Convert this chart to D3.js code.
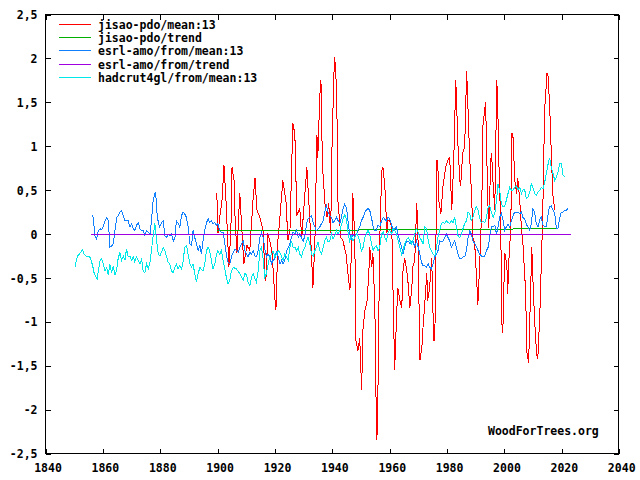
<!DOCTYPE html>
<html><head><meta charset="utf-8">
<script src="https://cdn.jsdelivr.net/npm/d3@7"></script>
<style>
html,body{margin:0;padding:0;background:#fff;}
text{font-family:"DejaVu Sans Mono",monospace;font-weight:bold;font-size:11.5px;fill:#000;}
</style></head>
<body><svg id="c" width="640" height="480"></svg>
<script>
// ---- data ----
const seriesNames = ["jisao-pdo/mean:13","jisao-pdo/trend","esrl-amo/from/mean:13","esrl-amo/from/trend","hadcrut4gl/from/mean:13"];
const seriesColors = ["#ff0000","#00b000","#1080ff","#a000e0","#00e8e8"];
const xTicks = [1840,1860,1880,1900,1920,1940,1960,1980,2000,2020,2040];
const yTicks = [-2.5,-2,-1.5,-1,-0.5,0,0.5,1,1.5,2,2.5];
const yTickLabels = ["-2,5","-2","-1,5","-1","-0,5","0","0,5","1","1,5","2","2,5"];

const pdo = [[1899.9,0.47],[1900.3,0.01],[1901.0,0.21],[1901.7,0.38],[1902.4,0.78],[1903.1,0.38],[1904.1,-0.38],[1904.8,0.04],[1905.2,0.76],[1905.9,0.61],[1906.2,0.23],[1906.9,-0.22],[1907.9,0.47],[1908.6,0.07],[1909.3,-0.34],[1910.4,-0.13],[1911.4,-0.19],[1912.5,0.38],[1913.2,0.64],[1913.9,0.27],[1914.9,0.19],[1916.0,0.04],[1916.7,-0.47],[1917.0,-0.53],[1917.7,0.01],[1919.1,-0.19],[1920.2,-0.76],[1920.5,-0.87],[1921.2,-0.07],[1921.9,0.19],[1922.9,0.61],[1924.0,0.38],[1924.7,-0.07],[1925.4,0.04],[1926.4,1.26],[1927.1,1.14],[1927.8,0.21],[1928.5,0.27],[1928.8,0.30],[1929.5,-0.04],[1930.6,0.46],[1931.3,0.76],[1931.6,0.58],[1932.3,0.19],[1933.4,-0.61],[1934.1,-0.07],[1934.8,1.13],[1935.1,0.87],[1935.8,1.58],[1936.2,1.75],[1936.5,1.14],[1936.9,0.69],[1937.6,0.35],[1938.3,0.19],[1938.9,0.35],[1939.6,0.01],[1940.0,0.92],[1940.7,1.81],[1941.0,2.01],[1941.7,1.63],[1942.1,0.38],[1942.8,0.12],[1943.1,-0.04],[1943.8,-0.07],[1944.9,-0.22],[1945.6,-0.45],[1946.3,-0.64],[1947.0,-0.07],[1947.3,0.47],[1948.0,-0.07],[1948.4,-1.21],[1949.1,-1.33],[1949.7,-1.18],[1950.4,-1.78],[1950.8,-1.10],[1951.5,-0.87],[1952.2,-0.79],[1952.9,-0.45],[1953.2,-0.15],[1953.9,-0.38],[1954.3,-0.22],[1955.0,-0.84],[1955.3,-1.70],[1955.7,-2.35],[1956.0,-1.98],[1956.7,-0.07],[1957.4,0.72],[1957.8,0.76],[1958.5,0.53],[1959.2,0.01],[1959.5,0.15],[1960.2,0.15],[1960.9,0.07],[1961.2,-0.45],[1961.9,-1.55],[1962.6,-0.91],[1963.0,-0.61],[1963.7,-0.76],[1964.4,-0.84],[1964.7,-0.45],[1965.4,-0.27],[1966.1,-0.42],[1966.5,-0.53],[1967.2,-0.84],[1967.9,-0.61],[1968.2,-0.38],[1968.9,-0.30],[1969.6,0.35],[1970.0,0.01],[1970.7,-1.44],[1971.4,-1.29],[1971.7,-1.10],[1972.4,-0.79],[1973.1,-0.45],[1973.4,-0.76],[1974.1,-0.61],[1974.8,-0.27],[1975.5,-1.21],[1975.9,-1.21],[1976.6,0.84],[1976.9,0.84],[1977.3,0.38],[1978.0,0.23],[1978.7,0.53],[1979.7,0.76],[1980.4,0.84],[1981.1,0.87],[1981.8,0.27],[1982.5,0.84],[1983.2,1.75],[1983.5,1.49],[1983.9,1.06],[1984.6,0.61],[1984.9,0.55],[1985.6,0.92],[1986.3,0.99],[1987.0,1.86],[1988.1,0.84],[1988.8,0.38],[1989.1,-0.04],[1989.8,-0.11],[1990.5,-0.53],[1990.9,-0.81],[1991.6,-0.30],[1992.3,0.35],[1992.6,1.21],[1993.6,1.50],[1994.3,0.46],[1994.7,0.07],[1995.4,0.84],[1995.7,0.92],[1996.1,0.64],[1996.8,0.27],[1997.5,1.75],[1997.8,1.52],[1998.2,0.84],[1998.9,0.07],[1999.2,-0.99],[1999.6,-1.13],[1999.9,-0.68],[2000.3,-0.22],[2001.0,-0.34],[2001.3,-0.68],[2001.7,-0.30],[2002.4,0.07],[2002.7,1.14],[2003.1,1.14],[2003.8,0.61],[2004.4,0.46],[2004.8,0.64],[2005.5,0.38],[2006.2,0.01],[2006.5,-0.04],[2007.6,-0.68],[2007.9,-1.33],[2008.6,-1.47],[2009.0,-0.99],[2009.7,-0.15],[2010.0,-0.45],[2010.7,-0.99],[2011.4,-1.38],[2011.8,-1.42],[2012.5,-0.91],[2013.2,-0.15],[2013.5,0.19],[2014.2,1.44],[2014.6,1.60],[2014.9,1.83],[2015.3,1.83],[2015.9,1.49],[2016.6,0.84],[2017.0,0.46],[2017.7,0.27]];

const pdoTrend = [[1900.0,0.035],[2018.2,0.06]];

const amo = [[1856.5,0.22],[1856.8,0.19],[1857.4,-0.02],[1858.0,-0.06],[1858.6,0.04],[1859.2,0.06],[1859.7,0.05],[1860.3,0.08],[1860.9,0.15],[1861.5,0.19],[1862.1,0.15],[1862.6,-0.15],[1863.2,-0.14],[1863.8,-0.11],[1864.4,0.04],[1865.0,0.19],[1865.5,0.21],[1866.1,0.25],[1866.7,0.27],[1867.3,0.21],[1867.9,0.15],[1868.4,0.15],[1869.0,0.15],[1869.6,0.08],[1870.2,0.12],[1870.8,0.06],[1871.3,0.04],[1871.9,0.10],[1872.5,0.13],[1873.1,0.06],[1873.7,0.04],[1874.2,0.04],[1874.8,-0.02],[1875.4,0.04],[1876.0,0.02],[1876.6,0.00],[1877.1,0.15],[1877.7,0.38],[1878.3,0.46],[1878.6,0.48],[1878.9,0.27],[1879.5,0.13],[1880.0,0.08],[1880.6,0.13],[1881.2,0.15],[1881.8,-0.02],[1882.4,-0.04],[1882.9,0.00],[1883.5,-0.02],[1884.1,0.00],[1884.7,-0.08],[1885.3,-0.04],[1885.8,0.15],[1886.4,0.12],[1887.0,0.08],[1887.6,0.21],[1888.2,0.25],[1888.7,0.23],[1889.3,0.19],[1889.9,0.08],[1890.5,-0.11],[1891.1,-0.13],[1891.6,0.04],[1892.2,-0.04],[1892.8,-0.11],[1893.4,-0.19],[1894.0,-0.13],[1894.5,-0.23],[1895.1,-0.08],[1895.7,0.04],[1896.3,0.13],[1896.9,0.17],[1897.4,0.13],[1898.0,0.15],[1898.6,0.12],[1899.2,0.13],[1899.8,0.10],[1900.3,0.12],[1900.9,0.04],[1901.5,0.02],[1902.1,0.02],[1902.7,-0.11],[1903.2,-0.23],[1903.8,-0.32],[1904.4,-0.34],[1905.0,-0.26],[1905.6,-0.21],[1906.2,-0.17],[1906.8,-0.19],[1907.4,-0.21],[1907.9,-0.15],[1908.5,-0.11],[1909.1,-0.08],[1909.7,-0.19],[1910.3,-0.23],[1910.8,-0.26],[1911.4,-0.21],[1912.0,-0.23],[1912.6,-0.19],[1913.2,-0.25],[1913.7,-0.26],[1914.3,-0.19],[1914.9,-0.04],[1915.5,0.02],[1916.1,-0.04],[1916.6,-0.17],[1917.2,-0.26],[1917.8,-0.23],[1918.4,-0.26],[1919.0,-0.34],[1919.5,-0.30],[1920.1,-0.28],[1920.7,-0.19],[1921.3,-0.26],[1921.9,-0.34],[1922.5,-0.30],[1923.0,-0.34],[1923.6,-0.30],[1924.2,-0.19],[1924.8,-0.15],[1925.4,-0.11],[1925.9,-0.04],[1926.5,0.02],[1927.1,0.00],[1927.7,0.04],[1928.3,-0.04],[1928.8,0.00],[1929.4,-0.04],[1930.0,-0.08],[1930.6,-0.02],[1931.2,0.12],[1931.7,0.17],[1932.3,0.19],[1932.9,0.21],[1933.5,0.13],[1934.1,0.08],[1934.6,0.04],[1935.2,0.06],[1935.8,0.08],[1936.4,0.12],[1937.0,0.15],[1937.5,0.25],[1938.1,0.32],[1938.7,0.25],[1939.3,0.21],[1939.9,0.19],[1940.4,0.13],[1941.0,0.15],[1941.6,0.19],[1942.2,0.15],[1942.8,0.12],[1943.3,0.19],[1943.9,0.29],[1944.5,0.34],[1945.1,0.30],[1945.7,0.13],[1946.2,0.00],[1946.8,-0.06],[1947.4,0.00],[1948.0,-0.04],[1948.6,0.00],[1949.1,0.04],[1949.7,0.08],[1950.3,0.15],[1950.9,0.19],[1951.5,0.25],[1952.0,0.27],[1952.6,0.29],[1953.2,0.27],[1953.8,0.19],[1954.4,0.08],[1954.9,0.04],[1955.5,0.04],[1956.1,0.10],[1956.7,0.08],[1957.3,0.15],[1957.9,0.19],[1958.4,0.17],[1959.0,0.15],[1959.6,0.19],[1960.2,0.17],[1961.4,0.04],[1962.5,0.08],[1963.7,-0.08],[1964.3,-0.15],[1964.8,-0.23],[1965.4,-0.15],[1966.0,-0.08],[1966.6,-0.08],[1967.2,-0.11],[1967.8,-0.09],[1968.3,-0.08],[1968.9,-0.15],[1969.5,-0.08],[1970.1,-0.15],[1970.7,-0.23],[1971.2,-0.32],[1971.8,-0.36],[1972.4,-0.36],[1973.0,-0.38],[1973.6,-0.34],[1974.1,-0.38],[1974.7,-0.40],[1975.3,-0.34],[1975.9,-0.26],[1976.5,-0.23],[1977.0,-0.19],[1977.6,-0.08],[1978.2,-0.09],[1978.8,-0.08],[1979.4,-0.04],[1979.9,0.00],[1980.5,-0.04],[1981.1,-0.08],[1981.7,-0.15],[1982.3,-0.11],[1982.8,-0.08],[1983.4,-0.15],[1984.0,-0.23],[1984.6,-0.28],[1985.2,-0.28],[1985.7,-0.26],[1986.3,-0.26],[1986.9,-0.19],[1987.5,-0.04],[1988.1,0.04],[1988.6,0.00],[1989.2,-0.08],[1989.8,-0.11],[1990.4,-0.15],[1991.0,-0.19],[1991.5,-0.23],[1992.1,-0.25],[1992.7,-0.26],[1993.3,-0.25],[1993.9,-0.19],[1994.5,-0.15],[1995.0,-0.04],[1995.6,0.08],[1996.2,0.08],[1996.8,0.10],[1997.4,0.00],[1997.9,0.08],[1998.5,0.19],[1999.1,0.23],[1999.7,0.15],[2000.3,0.04],[2000.8,0.08],[2001.4,0.11],[2002.0,0.08],[2002.6,0.15],[2003.2,0.21],[2003.7,0.25],[2004.3,0.25],[2004.9,0.25],[2005.5,0.23],[2006.1,0.25],[2006.6,0.19],[2007.2,0.17],[2007.8,0.11],[2008.4,0.08],[2009.0,0.04],[2009.5,0.11],[2010.1,0.29],[2010.7,0.25],[2011.3,0.11],[2011.9,0.08],[2012.5,0.17],[2013.0,0.19],[2013.6,0.10],[2014.2,0.08],[2014.8,0.08],[2015.4,0.23],[2015.9,0.31],[2016.5,0.32],[2017.1,0.27],[2017.7,0.23],[2018.3,0.06],[2018.8,0.06],[2019.4,0.17],[2020.0,0.25],[2020.6,0.25],[2021.2,0.27],[2021.7,0.27],[2022.3,0.29]];

const amoTrend = [[1856.0,0.0],[2023.2,0.0]];

const hadcrut = [[1850.5,-0.38],[1850.8,-0.32],[1851.3,-0.25],[1852.0,-0.23],[1852.4,-0.21],[1853.1,-0.18],[1853.6,-0.23],[1854.3,-0.25],[1854.8,-0.26],[1855.4,-0.25],[1855.9,-0.28],[1856.6,-0.36],[1857.1,-0.44],[1857.8,-0.49],[1858.2,-0.51],[1858.7,-0.40],[1859.2,-0.30],[1859.7,-0.28],[1860.3,-0.34],[1860.9,-0.42],[1861.5,-0.38],[1862.1,-0.47],[1862.6,-0.34],[1863.2,-0.44],[1863.8,-0.36],[1864.4,-0.47],[1865.0,-0.40],[1865.5,-0.28],[1866.1,-0.21],[1866.7,-0.30],[1867.3,-0.25],[1867.9,-0.30],[1868.4,-0.17],[1869.0,-0.26],[1869.6,-0.25],[1870.2,-0.30],[1870.8,-0.26],[1871.3,-0.32],[1871.9,-0.26],[1872.5,-0.30],[1873.1,-0.34],[1873.7,-0.28],[1874.2,-0.42],[1874.8,-0.44],[1875.4,-0.34],[1876.0,-0.40],[1876.6,-0.32],[1877.1,-0.19],[1877.7,-0.02],[1878.3,0.12],[1878.9,-0.08],[1879.5,-0.23],[1880.0,-0.25],[1880.6,-0.21],[1881.2,-0.15],[1881.8,-0.19],[1882.4,-0.26],[1882.9,-0.32],[1883.5,-0.34],[1884.1,-0.42],[1884.7,-0.44],[1885.3,-0.38],[1885.8,-0.34],[1886.4,-0.40],[1887.0,-0.36],[1887.6,-0.40],[1888.2,-0.30],[1888.7,-0.15],[1889.3,-0.13],[1889.9,-0.23],[1890.5,-0.34],[1891.1,-0.38],[1891.6,-0.34],[1892.2,-0.45],[1892.8,-0.55],[1893.4,-0.45],[1894.0,-0.38],[1894.5,-0.40],[1895.1,-0.42],[1895.7,-0.34],[1896.3,-0.19],[1896.9,-0.15],[1897.4,-0.19],[1898.0,-0.30],[1898.6,-0.40],[1899.2,-0.34],[1899.8,-0.23],[1900.3,-0.19],[1900.9,-0.23],[1901.5,-0.19],[1902.1,-0.30],[1902.7,-0.40],[1903.2,-0.49],[1903.8,-0.57],[1904.4,-0.53],[1905.0,-0.42],[1905.6,-0.38],[1906.8,-0.40],[1907.9,-0.45],[1908.5,-0.49],[1909.1,-0.53],[1909.7,-0.45],[1910.3,-0.47],[1910.8,-0.55],[1911.4,-0.59],[1912.0,-0.49],[1912.6,-0.45],[1913.2,-0.51],[1913.7,-0.55],[1914.3,-0.42],[1914.9,-0.19],[1915.5,-0.15],[1916.1,-0.30],[1916.6,-0.49],[1917.2,-0.45],[1917.8,-0.34],[1918.4,-0.26],[1919.0,-0.23],[1919.5,-0.19],[1920.1,-0.26],[1920.7,-0.23],[1921.3,-0.19],[1921.9,-0.21],[1922.5,-0.26],[1923.0,-0.30],[1923.6,-0.23],[1924.2,-0.26],[1924.8,-0.30],[1925.4,-0.15],[1925.9,-0.08],[1926.5,-0.15],[1927.1,-0.15],[1927.7,-0.19],[1928.3,-0.15],[1928.8,-0.23],[1929.4,-0.26],[1930.0,-0.19],[1930.6,-0.15],[1931.2,-0.08],[1931.7,-0.04],[1932.3,-0.11],[1932.9,-0.23],[1933.5,-0.25],[1934.1,-0.19],[1934.6,-0.15],[1935.2,-0.09],[1935.8,-0.19],[1936.4,-0.23],[1937.0,-0.15],[1937.5,-0.08],[1938.1,-0.04],[1938.7,-0.09],[1939.3,-0.08],[1939.9,0.00],[1940.4,-0.06],[1941.0,-0.02],[1941.6,0.04],[1942.2,0.00],[1942.8,0.04],[1943.3,0.10],[1943.9,0.17],[1944.5,0.22],[1945.1,0.17],[1945.7,0.00],[1946.2,-0.08],[1946.8,-0.02],[1947.4,-0.08],[1948.0,-0.04],[1948.6,0.00],[1949.1,-0.02],[1949.7,-0.08],[1950.3,-0.19],[1950.9,-0.15],[1951.5,-0.04],[1952.0,0.00],[1952.6,0.04],[1953.2,0.00],[1953.8,-0.11],[1954.4,-0.19],[1954.9,-0.15],[1955.5,-0.13],[1956.1,-0.19],[1956.7,-0.15],[1957.3,0.00],[1957.9,0.02],[1958.4,-0.04],[1959.0,-0.08],[1959.6,0.02],[1960.2,0.04],[1960.8,0.00],[1961.4,0.06],[1961.9,0.04],[1962.5,0.00],[1963.1,-0.07],[1963.7,-0.15],[1964.3,-0.23],[1964.8,-0.19],[1965.4,-0.11],[1966.0,-0.07],[1966.6,-0.04],[1967.2,-0.07],[1967.8,-0.11],[1968.3,-0.07],[1968.9,0.00],[1969.5,0.06],[1970.1,0.02],[1970.7,-0.04],[1971.2,-0.07],[1971.8,-0.11],[1972.4,0.08],[1973.0,0.06],[1973.6,-0.07],[1974.1,-0.15],[1974.7,-0.19],[1975.3,-0.23],[1975.9,-0.25],[1976.5,-0.15],[1977.0,-0.04],[1977.6,0.04],[1978.2,0.12],[1978.8,0.13],[1979.4,0.12],[1979.9,0.15],[1980.5,0.13],[1981.1,0.12],[1981.7,0.15],[1982.3,0.13],[1982.8,0.19],[1983.4,0.08],[1984.0,-0.02],[1984.6,-0.04],[1985.2,0.00],[1985.7,0.06],[1986.3,0.12],[1986.9,0.15],[1987.5,0.25],[1988.1,0.23],[1988.6,0.15],[1989.2,0.19],[1989.8,0.27],[1990.4,0.31],[1991.0,0.27],[1991.5,0.19],[1992.1,0.13],[1992.7,0.15],[1993.3,0.13],[1993.9,0.19],[1994.5,0.31],[1995.0,0.32],[1995.6,0.25],[1996.2,0.19],[1996.8,0.23],[1997.4,0.38],[1997.9,0.57],[1998.5,0.50],[1999.1,0.34],[1999.7,0.31],[2000.3,0.32],[2000.8,0.38],[2001.4,0.46],[2002.0,0.53],[2002.6,0.50],[2003.2,0.50],[2003.7,0.53],[2004.3,0.55],[2004.9,0.50],[2005.5,0.53],[2006.1,0.46],[2006.6,0.50],[2007.2,0.51],[2007.8,0.40],[2008.4,0.42],[2009.0,0.48],[2009.5,0.57],[2010.1,0.53],[2010.7,0.46],[2011.3,0.44],[2011.9,0.48],[2012.5,0.50],[2013.0,0.53],[2013.6,0.51],[2014.2,0.59],[2014.8,0.69],[2015.4,0.80],[2015.9,0.87],[2016.5,0.76],[2017.1,0.69],[2017.7,0.61],[2018.3,0.65],[2018.8,0.70],[2019.4,0.80],[2020.0,0.80],[2020.6,0.67],[2021.2,0.65]];

const watermark = "WoodForTrees.org";

// ---- drawing ----
const svg = d3.select("#c");
const x = d3.scaleLinear().domain([1840, 2040]).range([45, 618.7]);
const y = d3.scaleLinear().domain([-2.5, 2.5]).range([453, 14]);

const plotSeries = [pdo, pdoTrend, amo, amoTrend, hadcrut];
const line = d3.line().x(d => x(d[0])).y(d => y(d[1]) + 0.5);

const g = svg.append("g");
plotSeries.forEach((s, i) => {
  g.append("path").datum(s).attr("d", line)
    .attr("fill", "none").attr("stroke", seriesColors[i])
    .attr("stroke-width", 1).attr("shape-rendering", "crispEdges");
});

// axes (ticks pointing inward)
const yLabel = v => yTickLabels[yTicks.indexOf(v)];
const axL = svg.append("g").attr("transform", "translate(45.5,0.5)")
  .call(d3.axisLeft(y).tickValues(yTicks).tickSize(-5).tickPadding(8).tickFormat(yLabel));
const axR = svg.append("g").attr("transform", "translate(618.5,0.5)")
  .call(d3.axisRight(y).tickValues(yTicks).tickSize(-5).tickFormat(""));
const axB = svg.append("g").attr("transform", "translate(0.5,453.5)")
  .call(d3.axisBottom(x).tickValues(xTicks).tickSize(-5).tickPadding(10).tickFormat(d3.format("d")));
const axT = svg.append("g").attr("transform", "translate(0.5,14.5)")
  .call(d3.axisTop(x).tickValues(xTicks).tickSize(-5).tickFormat(""));
[axL, axR, axB, axT].forEach(a => {
  a.select(".domain").remove();
  a.selectAll("line").attr("stroke", "#000").attr("shape-rendering", "crispEdges");
  a.selectAll("text").attr("font-family", null).attr("font-size", null).style("fill", "#000");
});
axB.selectAll("text").attr("dx", 2);
axL.selectAll("text").attr("dy", "0.36em");

// frame
svg.append("rect").attr("x", 45.5).attr("y", 14.5).attr("width", 573).attr("height", 439)
  .attr("fill", "none").attr("stroke", "#000").attr("shape-rendering", "crispEdges");

// legend
const leg = svg.append("g").attr("class", "legend");
seriesNames.forEach((n, i) => {
  const yy = 24 + Math.round(i * 13.2);
  leg.append("rect").attr("x", 59).attr("y", yy).attr("width", 32).attr("height", 1)
    .style("fill", seriesColors[i]).attr("shape-rendering", "crispEdges");
  leg.append("text").attr("x", 98).attr("y", yy + 4.5).text(n);
});

svg.append("text").attr("x", 488).attr("y", 435).text(watermark);
</script></body></html>
